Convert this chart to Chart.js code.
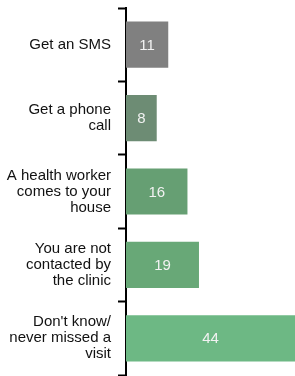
<!DOCTYPE html>
<html>
<head>
<meta charset="utf-8">
<script src="https://cdn.jsdelivr.net/npm/chart.js@4.4.1/dist/chart.umd.min.js"></script>
<style>
html,body{margin:0;padding:0;background:#fff;}
#wrap{width:295px;height:376px;position:relative;}
</style>
</head>
<body>
<div id="wrap"><canvas id="c"></canvas></div>
<script>
const categories = [
  "Get an SMS",
  ["Get a phone", "call"],
  ["A health worker", "comes to your", "house"],
  ["You are not", "contacted by", "the clinic"],
  ["Don't know/", "never missed a", "visit"]
];
const values = [11, 8, 16, 19, 44];
const barColors = ["#808080", "#6d8c74", "#669f73", "#68a877", "#6db884"];

const valueLabels = {
  id: 'valueLabels',
  afterDatasetsDraw(chart) {
    const ctx = chart.ctx;
    const meta = chart.getDatasetMeta(0);
    ctx.save();
    ctx.fillStyle = '#f2f2f2';
    ctx.font = '15px "Liberation Sans", Arial, sans-serif';
    ctx.textAlign = 'center';
    ctx.textBaseline = 'middle';
    meta.data.forEach((bar, i) => {
      const p = bar.getProps(['x', 'y', 'base'], true);
      ctx.fillText(String(values[i]), (p.x + p.base) / 2, p.y + 1);
    });
    ctx.restore();
  }
};

new Chart(document.getElementById('c'), {
  type: 'bar',
  data: {
    labels: categories,
    datasets: [{
      data: values,
      backgroundColor: barColors,
      borderWidth: 0,
      barPercentage: 0.63,
      categoryPercentage: 1
    }]
  },
  options: {
    indexAxis: 'y',
    responsive: true,
    maintainAspectRatio: false,
    animation: false,
    layout: { padding: { top: 8, bottom: 1, left: 0, right: 0 } },
    plugins: { legend: { display: false }, tooltip: { enabled: false } },
    scales: {
      x: { display: false, min: 0, max: 44 },
      y: {
        afterFit(scale) { scale.width = 126; scale.paddingTop = 0; scale.paddingBottom = 0; },
        grid: {
          offset: true,
          drawOnChartArea: false,
          drawTicks: true,
          tickLength: 8,
          tickWidth: 2,
          color: '#000'
        },
        border: { display: true, color: '#000', width: 2 },
        ticks: {
          color: '#111',
          padding: 7,
          font: { family: '"Liberation Sans", Arial, sans-serif', size: 15, lineHeight: 1.07 }
        }
      }
    }
  },
  plugins: [valueLabels]
});
</script>
</body>
</html>
